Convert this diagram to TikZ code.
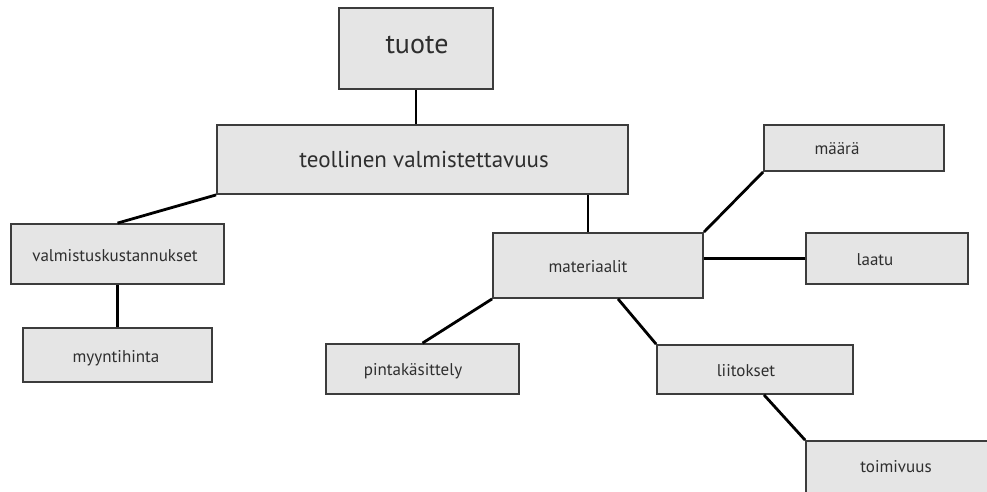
\documentclass[tikz,border=0pt]{standalone}
\usepackage{fontspec}
\setmainfont{PT Sans}
\definecolor{boxfill}{HTML}{E5E5E5}
\definecolor{boxline}{HTML}{3C3C3C}
\definecolor{ink}{HTML}{2E2E2E}
\begin{document}
\begin{tikzpicture}[x=1pt,y=-1pt,
  box/.style={draw=boxline, line width=1.8pt, fill=boxfill, rectangle, inner sep=0pt},
  lbl/.style={text=ink, inner sep=0pt, anchor=mid, font=\fontsize{17}{20}\selectfont},
  lblmid/.style={lbl, font=\fontsize{23}{27}\selectfont},
  lblbig/.style={lbl, font=\fontsize{28}{34}\selectfont},
  link/.style={draw=black, line width=2.8pt}]
\useasboundingbox (0,0) rectangle (987,491);
\clip (0,0) rectangle (987,491);
% boxes
\node[box, minimum width=154pt, minimum height=81pt] (tuote) at (416,48.5) {};
\node[box, minimum width=411pt, minimum height=69pt] (teol) at (422.5,159.5) {};
\node[box, minimum width=213pt, minimum height=60pt] (valm) at (117.5,254) {};
\node[box, minimum width=189pt, minimum height=54pt] (myyn) at (117.5,355) {};
\node[box, minimum width=210pt, minimum height=65pt] (mat) at (598,265.5) {};
\node[box, minimum width=180pt, minimum height=46pt] (maara) at (854,148) {};
\node[box, minimum width=162pt, minimum height=51pt] (laatu) at (887,258.5) {};
\node[box, minimum width=193pt, minimum height=50pt] (pinta) at (422.5,369) {};
\node[box, minimum width=196pt, minimum height=49pt] (liit) at (755,369.5) {};
\node[box, minimum width=194pt, minimum height=69pt] (toim) at (903,475.5) {};
% labels
\node[lblbig] (t-tuote) at (417,51) {tuote};
\node[lblmid] (t-teol) at (424,165) {teollinen valmistettavuus};
\node[lbl] (t-valm) at (115,259) {valmistuskustannukset};
\node[lbl] (t-myyn) at (116,360) {myyntihinta};
\node[lbl] (t-mat) at (588,270) {materiaalit};
\node[lbl] (t-maara) at (837,152) {määrä};
\node[lbl] (t-laatu) at (875,263) {laatu};
\node[lbl] (t-pinta) at (413,373) {pintakäsittely};
\node[lbl] (t-liit) at (746,374) {liitokset};
\node[lbl] (t-toim) at (896,470) {toimivuus};
% connectors
\draw[link] (tuote.south) -- (tuote.south |- teol.north);
\draw[link] (teol.south west) -- (valm.north);
\draw[link] ([xshift=-10pt]mat.north) -- ([xshift=-10pt]mat.north |- teol.south);
\draw[link] (valm.south) -- (myyn.north);
\draw[link] (mat.north east) -- (maara.south west);
\draw[link] (laatu.west) -- (laatu.west -| mat.east);
\draw[link] (mat.south west) -- (pinta.north);
\draw[link] ([xshift=20pt]mat.south) -- (liit.north west);
\draw[link] ([xshift=9pt]liit.south) -- (toim.north west);
\end{tikzpicture}
\end{document}
